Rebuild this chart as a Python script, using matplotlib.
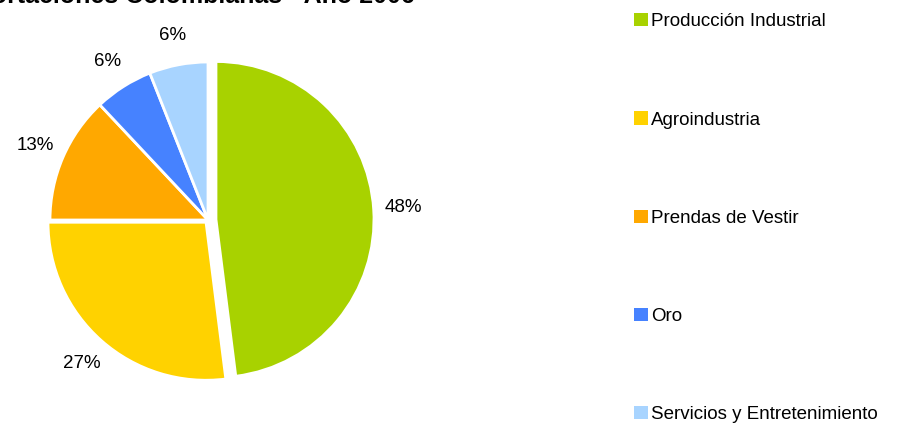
import matplotlib
matplotlib.use("Agg")
import matplotlib.pyplot as plt

# Datos
categorias = ["Producción Industrial", "Agroindustria", "Prendas de Vestir",
              "Oro", "Servicios y Entretenimiento"]
valores = [48, 27, 13, 6, 6]
colores = ["#A8D200", "#FFD200", "#FFA800", "#4682FF", "#A8D4FF"]
titulo = "Exportaciones Colombianas - Año 2006"

plt.rcParams['font.family'] = ['Liberation Sans', 'DejaVu Sans']

fig = plt.figure(figsize=(9.15, 4.23), dpi=100)
ax = fig.add_axes([0, 0, 1, 1])

# explode en unidades de datos (pixeles)
wedges, texts, autotexts = ax.pie(
    valores, colors=colores, startangle=90, counterclock=False,
    center=(208, 203), radius=158, explode=[8, 3, 0, 0, 0],
    autopct='%1.0f%%', pctdistance=1.19,
    wedgeprops=dict(edgecolor='white', linewidth=2),
    textprops=dict(fontsize=13.5, color='black'))
ax.set_xlim(0, 915)
ax.set_ylim(0, 423)
ax.set_aspect('equal')
ax.axis('off')

# Titulo recortado arriba (como en el original)
fig.text(415 / 915, 1.0 - 3 / 423, titulo, ha='right', va='baseline',
         fontsize=18, fontweight='bold')

leg = fig.legend(wedges, categorias, loc='upper left',
                 bbox_to_anchor=(625 / 915, 1.0 - 4 / 423),
                 frameon=False, fontsize=13.5, handlelength=0.7,
                 handleheight=0.7, handletextpad=0.2, labelspacing=4.32,
                 borderpad=0)
for h in leg.legend_handles:
    h.set_edgecolor('none')

fig.savefig("out.png", dpi=100)
